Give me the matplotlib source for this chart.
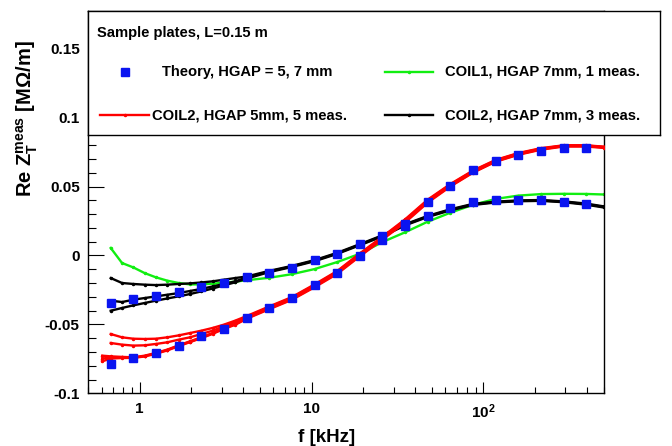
import matplotlib
matplotlib.use('Agg')
import matplotlib.pyplot as plt
from matplotlib.ticker import FixedLocator, FixedFormatter, NullFormatter

plt.rcParams['font.family'] = ['Liberation Sans', 'DejaVu Sans']
plt.rcParams['font.weight'] = 'bold'
plt.rcParams['mathtext.fontset'] = 'custom'
plt.rcParams['mathtext.rm'] = 'Liberation Sans:bold'
plt.rcParams['mathtext.bf'] = 'Liberation Sans:bold'
plt.rcParams['mathtext.it'] = 'Liberation Sans:bold'

# ---------------- data ----------------
F_THEORY = [0.678, 0.918, 1.243, 1.684, 2.280, 3.088, 4.183, 5.667, 7.674, 10.40, 14.09,
            19.09, 25.84, 35.0, 47.4, 64.2, 86.9, 117.8, 159.6, 216.2, 292.8, 396.6]
THEORY_5MM = [-0.0787, -0.0745, -0.0705, -0.0657, -0.0588, -0.0530, -0.0452, -0.0384, -0.0312,
              -0.0216, -0.0127, -0.0002, 0.0114, 0.0230, 0.0389, 0.0507, 0.0623, 0.0687,
              0.0730, 0.0760, 0.0777, 0.0780]
THEORY_7MM = [-0.0345, -0.0316, -0.0292, -0.0265, -0.0229, -0.0199, -0.0159, -0.0124, -0.0089,
              -0.0035, 0.0012, 0.0080, 0.0138, 0.0210, 0.0289, 0.0345, 0.0387, 0.0399,
              0.0400, 0.0399, 0.0390, 0.0376]

F_MEAS = [0.678, 0.789, 0.918, 1.068, 1.243, 1.447, 1.684, 1.959, 2.280, 2.653, 3.088, 3.593,
          4.183, 5.667, 7.674, 10.40, 14.09, 19.09, 25.84, 35.0, 47.4, 64.2, 86.9, 117.8,
          159.6, 216.2, 292.8, 396.6, 500.0]
F_MEAS_EXT = [0.605] + F_MEAS

COIL1_7MM = [0.0054, -0.0055, -0.0087, -0.0128, -0.0159, -0.0183, -0.0200, -0.0210, -0.0210,
             -0.0205, -0.0198, -0.0190, -0.0180, -0.0162, -0.0136, -0.0099, -0.0048, 0.0012,
             0.0097, 0.0168, 0.0245, 0.0310, 0.0367, 0.0410, 0.0434, 0.0445, 0.0447, 0.0446,
             0.0442]

COIL2_7MM_A = [-0.0164, -0.0200, -0.0207, -0.0212, -0.0215, -0.0212, -0.0207, -0.0203, -0.0196,
               -0.0188, -0.0176, -0.0164, -0.0153, -0.0112, -0.0076, -0.0034, 0.0019, 0.0082,
               0.0146, 0.0226, 0.0287, 0.0335, 0.0374, 0.0390, 0.0399, 0.0402, 0.0392, 0.0376,
               0.0356]
COIL2_7MM_B = [-0.0328, -0.0338, -0.0321, -0.0309, -0.0297, -0.0285, -0.0273, -0.0258, -0.0243,
               -0.0225, -0.0207, -0.0188, -0.0160, -0.0116, -0.0080, -0.0038, 0.0015, 0.0078,
               0.0142, 0.0222, 0.0283, 0.0331, 0.0370, 0.0387, 0.0396, 0.0399, 0.0389, 0.0372,
               0.0352]
COIL2_7MM_C = [-0.0401, -0.0381, -0.0362, -0.0345, -0.0328, -0.0312, -0.0297, -0.0280, -0.0261,
               -0.0240, -0.0217, -0.0195, -0.0168, -0.0121, -0.0084, -0.0042, 0.0011, 0.0074,
               0.0138, 0.0218, 0.0279, 0.0327, 0.0366, 0.0384, 0.0393, 0.0396, 0.0386, 0.0368,
               0.0348]

COIL2_5MM_A = [-0.0570, -0.0594, -0.0604, -0.0606, -0.0604, -0.0594, -0.0580, -0.0563, -0.0546,
               -0.0526, -0.0502, -0.0473, -0.0440, -0.0370, -0.0302, -0.0210, -0.0113, 0.0015,
               0.0136, 0.0262, 0.0405, 0.0518, 0.0616, 0.0693, 0.0743, 0.0778, 0.0799, 0.0799,
               0.0789]
COIL2_5MM_B = [-0.0635, -0.0647, -0.0654, -0.0652, -0.0642, -0.0630, -0.0611, -0.0594, -0.0570,
               -0.0546, -0.0514, -0.0483, -0.0446, -0.0375, -0.0307, -0.0215, -0.0118, 0.0010,
               0.0131, 0.0256, 0.0400, 0.0514, 0.0612, 0.0690, 0.0740, 0.0775, 0.0797, 0.0797,
               0.0787]
COIL2_5MM_C = [-0.0727, -0.0732, -0.0736, -0.0739, -0.0727, -0.0707, -0.0683, -0.0652, -0.0623,
               -0.0594, -0.0563, -0.0526, -0.0497, -0.0452, -0.0381, -0.0313, -0.0221, -0.0124,
               0.0004, 0.0125, 0.0249, 0.0393, 0.0508, 0.0606, 0.0686, 0.0736, 0.0772, 0.0795,
               0.0795, 0.0785]
COIL2_5MM_D = [-0.0748, -0.0740, -0.0740, -0.0741, -0.0730, -0.0710, -0.0686, -0.0655, -0.0626,
               -0.0597, -0.0566, -0.0530, -0.0500, -0.0456, -0.0386, -0.0318, -0.0226, -0.0129,
               -0.0001, 0.0120, 0.0244, 0.0388, 0.0504, 0.0603, 0.0683, 0.0733, 0.0770, 0.0793,
               0.0793, 0.0783]
COIL2_5MM_E = [-0.0768, -0.0748, -0.0744, -0.0743, -0.0733, -0.0713, -0.0689, -0.0658, -0.0629,
               -0.0600, -0.0569, -0.0533, -0.0503, -0.0460, -0.0390, -0.0322, -0.0231, -0.0134,
               -0.0006, 0.0115, 0.0239, 0.0383, 0.0500, 0.0600, 0.0680, 0.0730, 0.0767, 0.0790,
               0.0790, 0.0780]

Y_TICKS = [-0.1, -0.05, 0.0, 0.05, 0.1, 0.15]
Y_TICK_LABELS = ["-0.1", "-0.05", "0", "0.05", "0.1", "0.15"]
X_TICKS = [1, 10, 100]
X_TICK_LABELS = ["1", "10", r"$\mathbf{10^{2}}$"]

LEGEND_HEADER = "Sample plates, L=0.15 m"
LBL_THEORY = "Theory, HGAP = 5, 7 mm"
LBL_COIL1 = "COIL1, HGAP 7mm, 1 meas."
LBL_C2_5 = "COIL2, HGAP 5mm, 5 meas."
LBL_C2_7 = "COIL2, HGAP 7mm, 3 meas."

RED = '#ff0000'
GREEN = '#11ee11'
BLACK = '#000000'
BLUE = '#0a14f0'

# ---------------- figure ----------------
W, H = 672, 446
fig = plt.figure(figsize=(W / 100, H / 100), dpi=100)


def fx(px):
    return px / W


def fy(py):
    return 1 - py / H


ax = fig.add_axes([fx(88), fy(393.3), fx(603.6) - fx(88), fy(11) - fy(393.3)])
ax.set_xscale('log')
ax.set_xlim(0.5, 500)
ax.set_ylim(-0.1, 0.1773)

lw = 1.7
ms = 1.5
ax.plot(F_MEAS, COIL1_7MM, color=GREEN, lw=lw, marker='o', ms=ms, zorder=2)
for ys in (COIL2_7MM_A, COIL2_7MM_B, COIL2_7MM_C):
    ax.plot(F_MEAS, ys, color=BLACK, lw=lw, marker='o', ms=ms, zorder=3)
for ys in (COIL2_5MM_A, COIL2_5MM_B):
    ax.plot(F_MEAS, ys, color=RED, lw=lw, marker='o', ms=ms, zorder=4)
for ys in (COIL2_5MM_C, COIL2_5MM_D, COIL2_5MM_E):
    ax.plot(F_MEAS_EXT, ys, color=RED, lw=lw, marker='o', ms=ms, zorder=4)
for ys in (THEORY_5MM, THEORY_7MM):
    ax.plot(F_THEORY, ys, ls='none', marker='s', ms=5.2, color=BLUE, mec=BLUE, zorder=5)

# axes styling (ROOT-like)
for side in ('top', 'right', 'left', 'bottom'):
    ax.spines[side].set_linewidth(1.0)
ax.yaxis.set_major_locator(FixedLocator(Y_TICKS))
ax.yaxis.set_major_formatter(FixedFormatter(Y_TICK_LABELS))
ax.yaxis.set_minor_locator(FixedLocator([v / 100 for v in range(-10, 18)]))
ax.xaxis.set_major_locator(FixedLocator(X_TICKS))
ax.xaxis.set_major_formatter(FixedFormatter(X_TICK_LABELS))
minors = [m * d for d in (0.1, 1, 10, 100) for m in range(2, 10)]
ax.xaxis.set_minor_locator(FixedLocator([m for m in minors if 0.5 <= m <= 500]))
ax.xaxis.set_minor_formatter(NullFormatter())
ax.tick_params(axis='y', which='major', direction='in', length=11.5, width=0.8,
               labelsize=11, pad=6, right=False)
ax.tick_params(axis='y', which='minor', direction='in', length=6, width=0.8, right=False)
ax.tick_params(axis='x', which='major', direction='in', length=8, width=0.8,
               labelsize=11, pad=6.5, top=False)
ax.tick_params(axis='x', which='minor', direction='in', length=4, width=0.8, top=False)
for lab in ax.get_xticklabels() + ax.get_yticklabels():
    lab.set_fontweight('bold')

# axis titles
fig.text(fx(327), fy(438), "f [kHz]", ha='center', va='center', fontsize=13.5,
         fontweight='bold')
fig.text(fx(27.5), fy(40), r"Re Z$_{\mathbf{T}}^{\mathbf{meas}}$ [MΩ/m]", rotation=90,
         ha='center', va='top', fontsize=14.5, fontweight='bold')

# legend box
lax = fig.add_axes([fx(88), fy(135), fx(660) - fx(88), fy(11) - fy(135)])
lax.set_zorder(10)
lax.set_facecolor('white')
lax.set_xlim(88, 660)
lax.set_ylim(135, 11)
lax.set_xticks([])
lax.set_yticks([])
for s in lax.spines.values():
    s.set_linewidth(1.0)

fs = 10.6
lax.text(96.7, 33, LEGEND_HEADER, ha='left', va='center', fontsize=fs, fontweight='bold')
lax.plot([125], [72], ls='none', marker='s', ms=5.2, color=BLUE)
lax.text(161.7, 72, LBL_THEORY, ha='left', va='center', fontsize=fs, fontweight='bold')
lax.plot([100, 124.5, 149], [115, 115, 115], color=RED, lw=lw, marker='o', ms=ms,
         markevery=[1])
lax.text(151.7, 115, LBL_C2_5, ha='left', va='center', fontsize=fs, fontweight='bold')
lax.plot([385, 409, 433], [72, 72, 72], color=GREEN, lw=lw, marker='o', ms=ms,
         markevery=[1])
lax.text(445, 72, LBL_COIL1, ha='left', va='center', fontsize=fs, fontweight='bold')
lax.plot([385, 409, 433], [115, 115, 115], color=BLACK, lw=lw, marker='o', ms=ms,
         markevery=[1])
lax.text(445, 115, LBL_C2_7, ha='left', va='center', fontsize=fs, fontweight='bold')

fig.savefig('out.png', dpi=100)
